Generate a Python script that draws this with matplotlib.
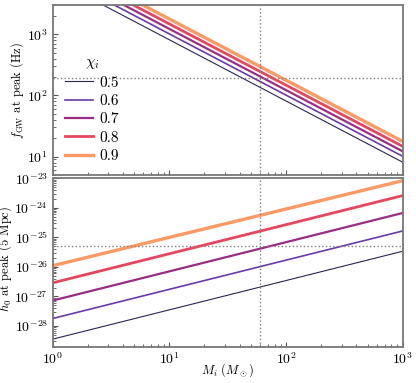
import matplotlib
matplotlib.use('Agg')
import matplotlib.pyplot as plt

plt.rcParams['font.family'] = 'serif'
plt.rcParams['font.serif'] = ['cmr10', 'DejaVu Serif']
plt.rcParams['mathtext.fontset'] = 'cm'
plt.rcParams['axes.unicode_minus'] = False
plt.rcParams['axes.formatter.use_mathtext'] = True
plt.rcParams['font.size'] = 10

# data (straight lines in log-log, endpoints at M=1 and M=1000)
chi = ['0.5', '0.6', '0.7', '0.8', '0.9']
mass = [1, 1000]
f_peak = {
    '0.5': [8100, 8.1],
    '0.6': [10100, 10.1],
    '0.7': [12200, 12.2],
    '0.8': [14700, 14.7],
    '0.9': [17700, 17.7],
}
h_peak = {
    '0.5': [3.6e-29, 3.4e-26],
    '0.6': [1.8e-28, 1.65e-25],
    '0.7': [7.3e-28, 6.7e-25],
    '0.8': [2.9e-27, 2.6e-24],
    '0.9': [1.1e-26, 8.3e-24],
}
colors = ['#2b2553', '#6a3aa8', '#9c2c84', '#e8455e', '#fc9a66']
widths = [0.8, 1.2, 1.6, 2.0, 2.4]

mark_mass = 60
mark_f = 195
mark_h = 5e-26


def style_axis(ax):
    for s in ax.spines.values():
        s.set_color('#777777')
        s.set_linewidth(1.3)
    ax.tick_params(which='both', direction='in', color='#555555')
    ax.tick_params(which='major', length=3.5)
    ax.tick_params(which='minor', length=2)
    ax.set_xscale('log')
    ax.set_yscale('log')
    ax.set_xlim(1, 1000)


fig = plt.figure(figsize=(4.16, 3.83), dpi=100)
ax1 = fig.add_axes([0.1267, 0.543, 0.8413, 0.444])
ax2 = fig.add_axes([0.1267, 0.0948, 0.8413, 0.4397])

for c, col, lw in zip(chi, colors, widths):
    ax1.plot(mass, f_peak[c], color=col, lw=lw, label=c)
    ax2.plot(mass, h_peak[c], color=col, lw=lw)

for ax in (ax1, ax2):
    style_axis(ax)
    ax.axvline(mark_mass, color='gray', ls=':', lw=1)

ax1.axhline(mark_f, color='gray', ls=':', lw=1)
ax2.axhline(mark_h, color='gray', ls=':', lw=1)

ax1.set_ylim(5, 3000)
ax2.set_ylim(2e-29, 1e-23)
ax1.tick_params(labelbottom=False)

ax1.set_ylabel(r'$f_{\rm GW}$ at peak (Hz)', fontsize=9)
ax2.set_ylabel(r'$h_0$ at peak (5 Mpc)', fontsize=9)
ax2.set_xlabel(r'$M_i\ (M_\odot)$', fontsize=9)
ax1.yaxis.set_label_coords(-0.075, 0.5)
ax2.yaxis.set_label_coords(-0.11, 0.52)
ax2.xaxis.set_label_coords(0.5, -0.085)

ax1.legend(title=r'$\chi_i$', frameon=False, loc='lower left',
           bbox_to_anchor=(0.018, 0.035), borderaxespad=0,
           fontsize=11, title_fontsize=11, labelspacing=0.3,
           handlelength=1.85, handletextpad=0.4)

fig.savefig('out.png', dpi=100)
